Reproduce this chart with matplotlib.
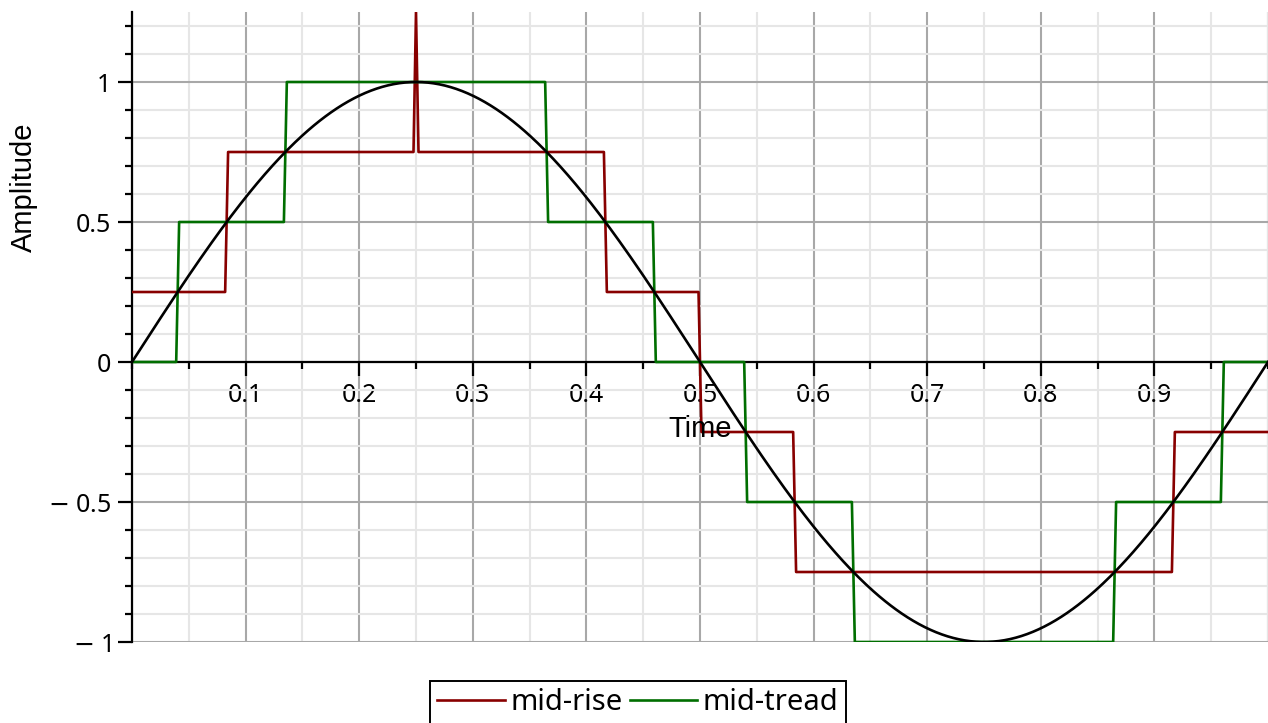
import matplotlib
matplotlib.use("Agg")
import matplotlib.pyplot as plt
import numpy as np
from matplotlib.ticker import MultipleLocator, FixedLocator, NullFormatter

# signal: one period of a unit sine, 1 Hz
amplitude = 1.0
freq = 1.0

# mid-rise quantiser (step 0.5): switch times and held levels
rise_edges = [0.0833, 0.4167, 0.5, 0.5833, 0.9167]
rise_levels = [0.25, 0.75, 0.25, -0.25, -0.75, -0.25]
spike_t, spike_peak = 0.25, 1.25

# mid-tread quantiser (step 0.5)
tread_edges = [0.0402, 0.135, 0.365, 0.4598, 0.5402, 0.635, 0.865, 0.9598]
tread_levels = [0.0, 0.5, 1.0, 0.5, 0.0, -0.5, -1.0, -0.5, 0.0]

x_labels = [0.1, 0.2, 0.3, 0.4, 0.5, 0.6, 0.7, 0.8, 0.9]
y_ticks = [-1, -0.5, 0, 0.5, 1]
y_labels = ["$-$ 1", "$-$ 0.5", "0", "0.5", "1"]

RED = "#880000"
GREEN = "#006e00"
slant = 0.0026  # sampled edges are not perfectly vertical


def steps(edges, levels, spikes=()):
    ts, ys = [0.0], [levels[0]]
    for e, a, b in zip(edges, levels[:-1], levels[1:]):
        ts += [e - slant / 2, e + slant / 2]
        ys += [a, b]
    ts.append(1.0)
    ys.append(levels[-1])
    for st, peak in spikes:
        i = np.searchsorted(ts, st)
        lv = ys[i - 1]
        ts[i:i] = [st - 0.0022, st, st + 0.0022]
        ys[i:i] = [lv, peak, lv]
    return ts, ys


fig = plt.figure(figsize=(12.68, 7.23), dpi=100)
W, H = 1268, 723
ax = fig.add_axes([132 / W, (H - 642) / H, (W - 132) / W, 630 / H])
ax.set_xlim(0, 1)
ax.set_ylim(-1, 1.25)

t = np.linspace(0, 1, 600)
ax.plot(t, amplitude * np.sin(2 * np.pi * freq * t), color="black", lw=1.9, zorder=4)
rt, ry = steps(rise_edges, rise_levels, [(spike_t, spike_peak)])
ax.plot(rt, ry, color=RED, lw=1.9, zorder=3, label="mid-rise")
gt, gy = steps(tread_edges, tread_levels)
ax.plot(gt, gy, color=GREEN, lw=1.9, zorder=3, label="mid-tread")

for s in ("top", "right"):
    ax.spines[s].set_visible(False)
ax.spines["bottom"].set_position(("data", 0))
ax.spines["left"].set_position(("data", 0))
for s in ("bottom", "left"):
    ax.spines[s].set_linewidth(1.6)
    ax.spines[s].set_zorder(2.5)

ax.xaxis.set_minor_locator(MultipleLocator(0.05))
ax.yaxis.set_minor_locator(MultipleLocator(0.1))
ax.set_xticks(x_labels)
ax.set_xticklabels([f"{v:g}" for v in x_labels])
ax.set_yticks(y_ticks)
ax.set_yticklabels(y_labels)
ax.yaxis.set_minor_formatter(NullFormatter())

ax.grid(which="major", color="#a8a8a8", lw=1.5)
ax.grid(which="minor", color="#e6e6e6", lw=1.5)
for v in [0.0, 1.0]:
    ax.axvline(v, color="#a8a8a8", lw=1.5, zorder=0.5)
ax.set_axisbelow(True)

ax.tick_params(which="major", direction="out", length=10, width=1.6, pad=5)
ax.tick_params(which="minor", direction="out", length=5, width=1.6)
for lab in ax.get_xticklabels() + ax.get_yticklabels():
    lab.set_fontfamily("Noto Sans")
    lab.set_fontsize(18)

ax.text(0.5, -0.24, "Time", ha="center", va="center",
        family="Liberation Sans", fontsize=21)
fig.text(24 / W, 1 - 187 / H, "Amplitude", rotation=90, ha="center", va="center",
         family="Liberation Sans", fontsize=21)

leg = fig.legend(loc="upper center", bbox_to_anchor=(638 / W, 1 - 681 / H),
                 ncol=2, frameon=True, fancybox=False, framealpha=1,
                 edgecolor="black", prop=dict(family="Noto Sans", size=21),
                 handlelength=2.3, handletextpad=0.2, columnspacing=0.25,
                 borderpad=0.25, borderaxespad=0)
leg.get_frame().set_linewidth(1.4)

fig.savefig("out.png", dpi=100)
